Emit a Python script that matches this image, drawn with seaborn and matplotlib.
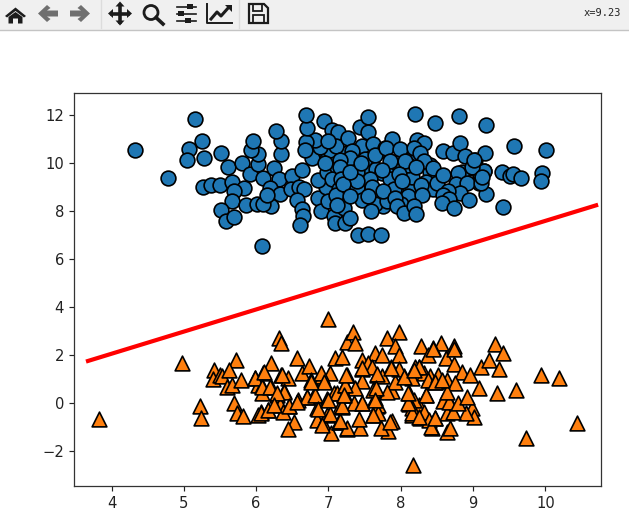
"""Two blobs split by a line, inside a copy of the plot window toolbar."""

import matplotlib
matplotlib.use("Agg")
import matplotlib.pyplot as plt
from matplotlib.patches import Circle, Polygon, Rectangle
import pandas as pd
import seaborn as sns

blue_x = [4.32, 4.78, 5.16, 5.25, 5.07, 5.04, 5.28, 5.51, 5.61, 5.80, 5.27, 5.38, 5.50, 5.66, 5.83,
          5.70, 5.67, 5.52, 5.58, 5.69, 5.86, 6.01, 6.20, 6.10, 6.08, 5.92, 6.02, 6.03, 5.93, 5.96,
          6.10, 6.25, 6.34, 6.35, 6.27, 6.32, 6.19, 6.33, 6.15, 6.50, 6.48, 6.59, 6.66, 6.63, 6.57,
          6.64, 6.65, 6.60, 6.86, 6.90, 7.07, 7.09, 6.97, 6.86, 6.98, 7.12, 6.85, 6.77, 6.98, 7.02,
          6.88, 6.81, 6.69, 6.68, 6.70, 6.69, 6.94, 7.05, 7.13,
          6.95, 7.05, 7.20, 7.15, 7.00, 7.25, 7.50, 7.55, 7.70, 7.85, 8.05, 8.10, 7.75, 7.95, 8.40,
          8.15, 7.10, 7.00,
          7.27, 7.43, 7.55, 7.55, 7.46, 7.62, 7.32, 7.30, 7.51, 7.16, 7.16, 7.39, 7.66, 7.78, 7.74,
          7.57, 7.18, 7.39, 7.39, 7.11, 7.46, 7.72, 7.65, 7.59, 7.21, 7.12, 7.23, 7.30, 7.41, 7.54,
          7.73, 7.81,
          7.20, 7.30, 7.60, 7.85, 7.90, 8.10, 8.15, 8.00, 7.55, 7.30, 7.45, 7.65, 7.95, 8.10, 8.40,
          8.35, 8.45,
          8.20, 8.48, 8.80, 9.18, 7.88, 7.79, 7.99, 8.23, 8.32, 8.19, 8.27, 7.85, 8.06, 8.32, 8.21,
          8.45, 7.97, 8.02, 7.74, 8.28, 8.50, 8.29, 7.75, 7.92, 7.95, 8.04, 8.18, 8.21, 8.59, 8.72,
          8.82, 8.89, 9.03, 9.17, 9.00, 9.15, 9.10, 9.08, 8.85, 8.79, 8.76, 8.91, 8.82, 8.66, 8.59,
          8.67, 8.57, 8.74, 8.94, 9.18, 8.58, 9.40, 9.51, 9.55, 9.67, 9.56, 10.01, 9.95, 9.94, 9.41,
          9.15, 8.99, 9.02, 9.11, 9.12]
blue_y = [10.53, 9.37, 11.80, 10.89, 10.57, 10.10, 10.21, 10.40, 9.80, 10.00, 8.97, 9.05, 9.05, 9.19, 8.93,
          8.82, 8.39, 8.01, 7.58, 7.73, 8.22, 8.30, 8.21, 8.26, 6.54, 9.51, 9.96, 10.37, 10.51, 10.89,
          9.35, 9.79, 10.35, 10.89, 11.33, 9.33, 8.94, 8.69, 8.66, 9.46, 8.90, 9.00, 8.90, 9.69, 8.43,
          8.07, 7.79, 7.42, 8.53, 8.00, 7.80, 7.48, 8.98, 9.26, 9.60, 9.80, 10.33, 10.19, 10.15, 10.54,
          10.65, 10.93, 10.85, 10.54, 11.44, 12.00, 11.72, 11.37, 11.28,
          10.00, 9.30, 9.60, 8.90, 8.40, 10.40, 9.40, 9.70, 10.50, 9.80, 9.40, 8.90, 8.20, 8.70, 9.90,
          10.20, 10.70, 10.90,
          11.03, 11.47, 11.90, 11.28, 10.68, 10.78, 10.47, 10.20, 10.17, 10.10, 9.80, 9.61, 9.74, 10.61, 9.57,
          9.32, 9.33, 8.94, 9.22, 8.64, 8.46, 8.74, 8.28, 8.00, 8.11, 8.25, 7.48, 7.70, 7.00, 7.03,
          6.97, 8.39,
          9.10, 8.60, 9.00, 9.30, 8.90, 8.60, 9.40, 8.30, 8.60, 9.60, 10.00, 10.30, 10.00, 9.90, 9.60,
          9.20, 8.90,
          12.04, 11.64, 11.94, 11.58, 10.99, 10.61, 10.57, 10.93, 10.82, 10.61, 10.40, 10.06, 10.06, 10.06, 9.80,
          9.78, 9.54, 9.22, 9.71, 9.06, 9.15, 8.67, 8.80, 8.53, 8.18, 7.90, 8.18, 7.85, 10.47, 10.40,
          10.82, 10.29, 10.13, 10.40, 9.78, 9.64, 9.36, 9.15, 9.60, 9.57, 9.13, 9.15, 8.74, 8.80, 8.67,
          8.49, 8.32, 8.11, 8.46, 8.70, 9.50, 9.60, 9.46, 9.54, 9.37, 10.71, 10.53, 9.57, 9.22, 8.14,
          9.67, 9.82, 10.10, 9.15, 9.39]

orange_x = [3.82, 4.97, 5.22, 5.23, 5.42, 5.40, 5.50, 5.53, 5.72, 5.63, 5.60, 5.67, 5.79, 5.70, 5.73,
            5.82, 5.98, 6.03, 6.08, 6.10, 6.21, 6.32, 6.35, 6.56, 6.63, 6.73, 6.76, 6.99, 6.35, 6.44,
            6.20, 6.08, 6.29, 6.39, 6.33, 6.46, 6.58, 6.70, 6.80, 6.98, 6.06, 6.03, 6.16, 6.37, 6.52,
            6.44, 6.84, 6.84, 6.93, 6.98, 7.04, 6.94, 6.91, 7.09, 7.07, 7.14, 7.16,
            5.98, 6.11, 6.36, 6.08, 6.19, 6.39, 6.29, 6.45, 6.06, 6.16, 6.24, 6.70, 6.82, 6.86, 7.02,
            6.91, 7.12, 7.02, 6.89, 6.56,
            7.26, 7.19, 7.25, 7.23, 7.21, 7.19, 7.15, 7.26, 7.00, 6.94, 6.76,
            7.34, 7.37, 7.98, 7.81, 7.92, 7.97, 8.28, 8.55, 8.45, 8.38, 8.62, 8.25, 7.65, 7.74, 7.46,
            7.46, 7.67, 7.86, 8.04, 7.47, 7.88, 7.66, 7.37, 7.23, 7.65, 7.46, 8.11, 8.35, 8.47, 8.57,
            8.41, 8.25, 8.11, 8.27, 8.15, 8.48, 8.43, 7.62, 7.88, 7.82, 7.72, 7.44, 7.42, 7.25, 7.67,
            8.64, 8.62,
            7.23, 7.35, 7.55, 7.74, 7.60, 7.62, 7.69, 7.69, 7.92, 7.81, 7.97, 8.15, 8.32, 8.38, 8.18,
            8.32, 8.15, 8.39, 8.64, 8.59, 8.64, 8.52, 8.20,
            8.73, 8.74, 8.44, 8.73, 8.85, 8.96, 9.11, 9.22, 9.31, 9.41, 9.36, 9.08, 9.33, 9.60, 9.94,
            10.19, 10.44, 9.73, 8.17, 8.68, 8.42, 8.47, 8.99, 9.02, 8.90, 8.72, 8.67, 8.79, 8.92, 8.75,
            8.64, 8.48, 8.57, 8.35, 8.16, 8.25, 8.10, 8.10, 8.04, 8.25, 8.18, 7.87, 7.46, 7.47, 7.67,
            7.66, 7.65, 7.61, 7.85, 7.16, 7.19, 7.22, 7.24]
orange_y = [-0.68, 1.68, -0.13, -0.64, 1.37, 0.98, 1.17, 1.10, 1.79, 1.35, 0.65, 0.75, 0.96, 0.00, -0.43,
            -0.54, 1.03, 0.75, 0.71, 1.26, 1.65, 2.69, 2.48, 1.86, 1.23, 1.55, 0.96, 3.50, 1.17, 1.03,
            0.68, 0.40, 0.33, 0.51, -0.09, -0.13, 0.10, 0.26, 0.33, 0.15, -0.36, -0.50, -0.29, -0.39, -0.78,
            -1.10, -0.22, -0.71, -0.85, -0.50, -1.24, 0.91, 1.10, 1.86, 0.40, -0.78, -0.15,
            1.03, 1.28, 1.17, 0.68, 0.68, 0.47, 0.40, -0.13, -0.43, -0.29, -0.09, 0.26, 0.33, -0.25, -0.46,
            -0.92, 0.40, 1.23, 1.23, 0.05,
            2.55, 1.93, 1.17, 0.75, 0.33, -0.18, -0.78, -1.10, 0.12, 0.89, 0.89,
            2.93, 2.49, 2.93, 2.69, 2.35, 2.00, 2.37, 2.49, 2.28, 2.00, 1.86, 1.48, 2.07, 2.00, 1.79,
            1.40, 1.17, 1.48, 1.10, 0.92, 0.51, 0.57, 0.61, 0.33, 0.20, -0.01, 0.43, 0.33, 0.86, 0.92,
            1.10, -0.08, -0.04, -0.61, -0.50, -0.64, -1.06, -0.50, -0.75, -1.15, -1.03, -1.03, -0.68, -1.06, -0.15,
            -1.20, 0.33,
            0.75, -0.01, 1.65, 1.10, 1.50, 0.54, -0.08, -0.43, 0.89, 0.47, 1.40, 1.03, 1.24, 0.96, 0.13,
            -0.36, -0.22, -0.71, 0.96, 0.06, -0.43, 1.17, 1.50,
            2.35, 2.23, 2.25, 1.62, 1.30, 1.17, 1.48, 1.79, 2.44, 2.07, 1.40, 0.64, 0.40, 0.54, 1.17,
            1.05, -0.85, -1.47, -2.58, -1.06, -0.99, -0.64, -0.22, -0.57, -0.43, -0.39, 0.05, 0.01, 0.26, 0.82,
            0.47, 0.89, 0.96, 0.33, -0.43, -0.57, -0.02, 0.43, 1.07, 1.51, 1.37, 1.44, 1.44, 0.00, 1.20,
            0.61, 0.12, -0.50, -0.78, -0.74, -0.15, 0.33, 1.17]

line_x = [3.646, 10.73]
line_y = [1.72, 8.25]

x_ticks = [4, 5, 6, 7, 8, 9, 10]
y_ticks = [-2, 0, 2, 4, 6, 8, 10, 12]
status_text = "x=9.23"

W, H = 629, 517
SCALE = 1.063


def draw_toolbar(fig):
    """Window toolbar, drawn in screen pixels on its own overlay axes."""
    tb = fig.add_axes([0, 0, 1, 1], zorder=5)
    tb.set_xlim(0, W)
    tb.set_ylim(H, 0)
    tb.axis("off")
    tb.patch.set_alpha(0)
    tb.add_patch(Rectangle((0, 0), W, 29.5, fc="#f0f0f0", ec="none"))
    tb.plot([0, W], [30, 30], color="#c4c4c4", lw=1)
    for sx in (100.5, 238.5):
        tb.plot([sx, sx], [0, 28], color="#dcdcdc", lw=1)

    dark = "#1c1c1c"
    grey = "#6f6f6f"
    # home
    tb.add_patch(Polygon([(5, 16), (15.5, 7.5), (26, 16), (24, 17.5), (15.5, 11), (7, 17.5)], fc=dark))
    tb.add_patch(Polygon([(8.5, 17), (15.5, 12), (22.5, 17), (22.5, 23.5), (18, 23.5), (18, 18.5),
                          (13, 18.5), (13, 23.5), (8.5, 23.5)], fc=dark))
    # back / forward
    for cx, sgn in ((48, -1), (80, 1)):
        tb.add_patch(Polygon([(cx + sgn * 10, 13.5), (cx + sgn * 1, 5), (cx - sgn * 2.5, 8), (cx + sgn * 1, 10.5),
                              (cx - sgn * 10, 10.5), (cx - sgn * 10, 16.5), (cx + sgn * 1, 16.5), (cx - sgn * 2.5, 19),
                              (cx + sgn * 1, 22)], fc=grey))
    # pan
    cx, cy = 120, 13.5
    tb.plot([cx - 8, cx + 8], [cy, cy], color=dark, lw=2.6)
    tb.plot([cx, cx], [cy - 8, cy + 8], color=dark, lw=2.6)
    for dx, dy in ((1, 0), (-1, 0), (0, 1), (0, -1)):
        tip = (cx + dx * 12, cy + dy * 12)
        a = (cx + dx * 7 + dy * 4.5, cy + dy * 7 + dx * 4.5)
        b = (cx + dx * 7 - dy * 4.5, cy + dy * 7 - dx * 4.5)
        tb.add_patch(Polygon([tip, a, b], fc=dark))
    # zoom
    tb.add_patch(Circle((151, 12.5), 7, fc="none", ec=dark, lw=2.0))
    tb.plot([156, 163], [17.5, 24], color=dark, lw=2.6)
    # sliders
    for sy, kx in ((6.5, 190), (13.5, 181), (20.5, 188)):
        tb.plot([177, 196], [sy, sy], color=dark, lw=1.2)
        tb.add_patch(Rectangle((kx - 3, sy - 2.5), 6, 5, fc=dark))
    # chart
    tb.plot([207, 207, 232], [4, 23, 23], color=dark, lw=1.4)
    tb.plot([211, 217, 221, 229], [19, 12, 16, 7], color=dark, lw=2.2)
    tb.add_patch(Polygon([(225, 5), (232, 5), (232, 12)], fc=dark))
    # save
    tb.add_patch(Polygon([(249, 4), (264, 4), (268, 8), (268, 23), (249, 23)], fc="none", ec=dark, lw=1.6))
    tb.add_patch(Rectangle((253, 4), 9, 7, fc="none", ec=dark, lw=1.3))
    tb.add_patch(Rectangle((253, 15), 11, 8, fc="none", ec=dark, lw=1.3))
    tb.text(584, 13.5, status_text, fontsize=7.5, family="DejaVu Sans Mono", va="center", ha="left", color="#222222")


blue = pd.DataFrame({"x": blue_x, "y": blue_y})
orange = pd.DataFrame({"x": orange_x, "y": orange_y})
line = pd.DataFrame({"x": line_x, "y": line_y})

fig = plt.figure(figsize=(W / 100, H / 100), dpi=100)
ax = fig.add_axes([74 / W, (H - 486) / H, 527 / W, 393 / H])

sns.scatterplot(data=blue, x="x", y="y", marker="o", s=(10 * SCALE) ** 2, color="#1f77b4",
                edgecolor="k", linewidth=1.2, ax=ax, legend=False)
sns.scatterplot(data=orange, x="x", y="y", marker="^", s=(10 * SCALE) ** 2, color="#ff7f0e",
                edgecolor="k", linewidth=1.2, ax=ax, legend=False)
sns.lineplot(data=line, x="x", y="y", color="red", linewidth=3.0, ax=ax, legend=False, errorbar=None,
             sort=False, solid_capstyle="butt")

ax.set_xlim(3.48, 10.77)
ax.set_ylim(-3.46, 12.9)
ax.set_xticks(x_ticks)
ax.set_yticks(y_ticks)
ax.set_xlabel("")
ax.set_ylabel("")
ax.tick_params(labelsize=10.6, length=3.7, width=0.85, color="#222222", labelcolor="#222222")
for spine in ax.spines.values():
    spine.set_linewidth(0.9)
    spine.set_color("#333333")

draw_toolbar(fig)

fig.savefig("out.png", dpi=100)
